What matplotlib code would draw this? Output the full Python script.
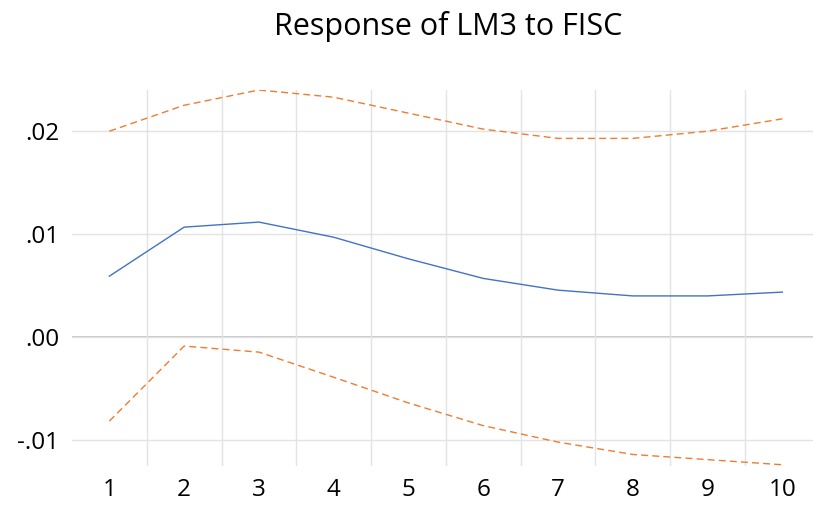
import matplotlib.pyplot as plt

periods = list(range(1, 11))
response = [0.00592, 0.01068, 0.01117, 0.0097, 0.0076, 0.0057, 0.00456, 0.0040, 0.0040, 0.00437]
upper = [0.0200, 0.02252, 0.0240, 0.0233, 0.02175, 0.0202, 0.0193, 0.0193, 0.0200, 0.0212]
lower = [-0.00816, -0.00087, -0.00146, -0.0039, -0.0064, -0.0086, -0.0102, -0.0114, -0.0119, -0.0124]
yticks = [-0.01, 0.0, 0.01, 0.02]
ylabels = ["-.01", ".00", ".01", ".02"]

plt.rcParams['font.family'] = ['Open Sans', 'DejaVu Sans']
fig = plt.figure(figsize=(8.13, 5.05), dpi=100)
ax = fig.add_axes([72 / 813, 39 / 505, 741 / 813, 376 / 505])

ax.plot(periods, response, color="#4472c4", lw=1.0)
ax.plot(periods, upper, color="#ed7d31", lw=1.0, ls=(0, (5, 3)))
ax.plot(periods, lower, color="#ed7d31", lw=1.0, ls=(0, (5, 3)))

ax.set_xlim(0.5, 10.41)
ax.set_ylim(-0.01252, 0.0240)
ax.set_xticks(periods)
ax.set_xticks([p + 0.5 for p in periods[:-1]], minor=True)
ax.set_yticks(yticks)
ax.set_yticklabels(ylabels)
ax.tick_params(axis="both", which="both", length=0, labelsize=17.5)
ax.tick_params(axis="x", pad=9)
ax.tick_params(axis="y", pad=9)
ax.grid(True, axis="y", color="#e3e3e3", lw=1)
ax.grid(True, axis="x", which="minor", color="#e3e3e3", lw=1)
ax.axhline(0, color="#c0c0c0", lw=1.3, zorder=1)
for s in ax.spines.values():
    s.set_visible(False)

fig.suptitle("Response of LM3 to FISC", x=448 / 813, y=1 - 27 / 505, va="center", fontsize=22)
fig.savefig("out.png", dpi=100)
